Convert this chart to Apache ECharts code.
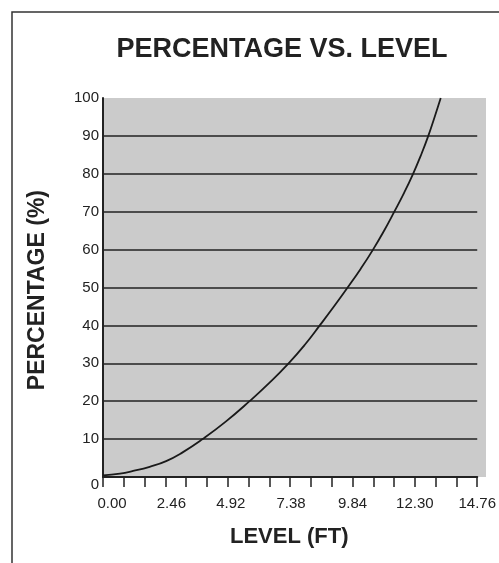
<!DOCTYPE html>
<html>
<head>
<meta charset="utf-8">
<title>Percentage vs. Level</title>
<script src="https://cdn.jsdelivr.net/npm/echarts@6/dist/echarts.min.js"></script>
<style>
  html, body { margin: 0; padding: 0; background: #ffffff; }
  #chart { width: 499px; height: 563px; }
</style>
</head>
<body>
<div id="chart"></div>
<script>
// Tank level (ft) against fill percentage
const levelFt = [0, 0.67, 1.19, 1.84, 2.49, 3.14, 3.93, 4.84, 5.78, 6.57, 7.32, 7.96, 8.55,
  9.10, 9.65, 10.16, 10.65, 11.08, 11.49, 11.87, 12.23, 12.54, 12.83, 13.08, 13.32];
const percentFull = [0.45, 0.9, 1.6, 2.7, 4.2, 6.5, 10, 14.6, 20, 24.9, 30, 34.9, 40,
  44.9, 50, 54.9, 60, 64.9, 70, 74.9, 80, 84.9, 90, 95, 100];

// Axis labelling
const xTickLabels = ['0.00', '2.46', '4.92', '7.38', '9.84', '12.30', '14.76'];
const xLabelShift = [18, 12, 6, 2, 0, 0, 0];
const yTickLabels = ['0', '10', '20', '30', '40', '50', '60', '70', '80', '90', '100'];
const xStep = 2.46;
const yStep = 10;

const FONT = '"Liberation Sans", Arial, Helvetica, sans-serif';
const INK = '#222222';

const chart = echarts.init(document.getElementById('chart'), null, { renderer: 'canvas' });

const xRich = {};
xLabelShift.forEach((p, i) => {
  xRich['x' + i] = { fontFamily: FONT, fontSize: 15, color: INK, padding: [0, 0, 0, p] };
});

const option = {
  animation: false,
  backgroundColor: '#ffffff',
  title: {
    text: 'PERCENTAGE VS. LEVEL',
    left: 277,
    top: 31,
    textAlign: 'center',
    textStyle: { fontFamily: FONT, fontSize: 27, fontWeight: 'bold', color: INK }
  },
  graphic: [
    {
      type: 'rect',
      z: -5,
      shape: { x: 12, y: 12, width: 600, height: 600 },
      style: { fill: '#ffffff', stroke: '#333333', lineWidth: 1.5 }
    },
    {
      type: 'rect',
      z: -4,
      shape: { x: 103, y: 98, width: 383, height: 379 },
      style: { fill: '#cbcbcb' }
    },
    {
      type: 'text',
      left: 26,
      top: 190,
      rotation: Math.PI / 2,
      style: {
        text: 'PERCENTAGE (%)',
        fontFamily: FONT, fontSize: 23, fontWeight: 'bold', fill: INK
      }
    },
    {
      type: 'text',
      left: 230,
      top: 526,
      style: {
        text: 'LEVEL (FT)',
        fontFamily: FONT, fontSize: 22, fontWeight: 'bold', fill: INK
      }
    }
  ],
  grid: { left: 103, top: 98, width: 377, height: 379, containLabel: false },
  xAxis: {
    type: 'value',
    min: 0,
    max: xStep * (xTickLabels.length - 1),
    interval: xStep,
    axisLine: { show: true, onZero: false, lineStyle: { color: INK, width: 2 } },
    axisTick: { show: true, inside: false, length: 10, lineStyle: { color: INK, width: 1.5 } },
    minorTick: { show: true, splitNumber: 3, length: 10, lineStyle: { color: INK, width: 1.5 } },
    splitLine: { show: false },
    axisLabel: {
      margin: 19,
      fontFamily: FONT, fontSize: 15, color: INK,
      rich: xRich,
      formatter: function (v) {
        const i = Math.round(v / xStep);
        return '{x' + i + '|' + xTickLabels[i] + '}';
      }
    }
  },
  yAxis: {
    type: 'value',
    min: 0,
    max: yStep * (yTickLabels.length - 1),
    interval: yStep,
    axisLine: { show: true, lineStyle: { color: INK, width: 2 } },
    axisTick: { show: false },
    splitLine: {
      show: true,
      showMinLine: false,
      showMaxLine: false,
      lineStyle: { color: INK, width: 1.5 }
    },
    axisLabel: {
      margin: 4,
      fontFamily: FONT, fontSize: 15, color: INK,
      rich: {
        zero: { fontFamily: FONT, fontSize: 15, color: INK, padding: [16, 0, 0, 0] }
      },
      formatter: function (v) {
        const i = Math.round(v / yStep);
        return i === 0 ? '{zero|' + yTickLabels[0] + '}' : yTickLabels[i];
      }
    }
  },
  series: [
    {
      type: 'line',
      data: levelFt.map((x, i) => [x, percentFull[i]]),
      smooth: 0.5,
      showSymbol: false,
      symbol: 'none',
      clip: false,
      lineStyle: { color: '#1a1a1a', width: 1.8 },
      z: 5
    }
  ]
};

chart.setOption(option);
</script>
</body>
</html>
